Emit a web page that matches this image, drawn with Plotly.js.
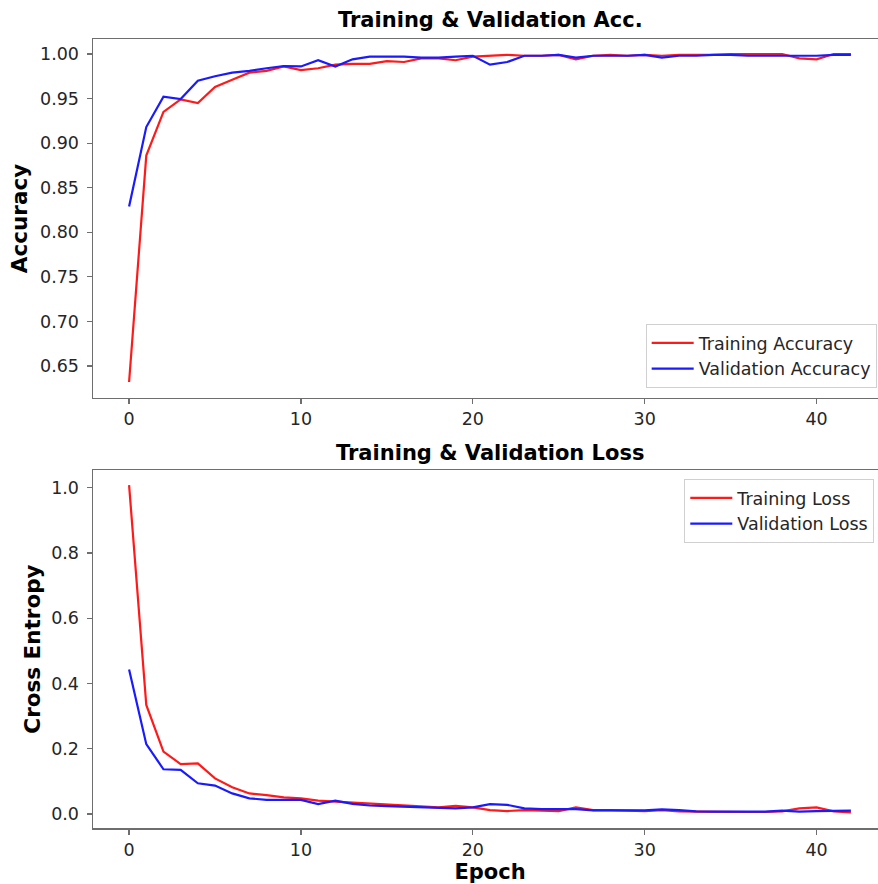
<!DOCTYPE html>
<html>
<head>
<meta charset="utf-8">
<script src="https://cdn.plot.ly/plotly-3.0.1.min.js"></script>
<style>
html,body{margin:0;padding:0;overflow:hidden;background:#fff;width:878px;height:884px;}
#chart{width:900px;height:884px;}
</style>
</head>
<body>
<div id="chart"></div>
<script>
const epochs = [0,1,2,3,4,5,6,7,8,9,10,11,12,13,14,15,16,17,18,19,20,21,22,23,24,25,26,27,28,29,30,31,32,33,34,35,36,37,38,39,40,41,42];
const trainAcc = [0.632,0.886,0.935,0.949,0.945,0.963,0.971,0.979,0.981,0.986,0.982,0.984,0.988,0.989,0.989,0.992,0.991,0.995,0.995,0.993,0.997,0.998,0.999,0.998,0.998,0.999,0.994,0.998,0.999,0.998,0.999,0.998,0.999,0.999,0.999,1.000,1.000,1.000,1.000,0.995,0.994,1.000,1.000];
const valAcc = [0.829,0.918,0.952,0.9495,0.970,0.975,0.979,0.981,0.984,0.9865,0.986,0.993,0.986,0.994,0.997,0.997,0.997,0.996,0.996,0.997,0.998,0.988,0.991,0.998,0.998,0.999,0.996,0.998,0.998,0.998,0.999,0.996,0.998,0.998,0.999,0.999,0.998,0.998,0.998,0.998,0.998,0.999,0.999];
const trainLoss = [1.008,0.334,0.191,0.153,0.155,0.109,0.082,0.063,0.058,0.051,0.048,0.041,0.038,0.035,0.033,0.029,0.025,0.023,0.020,0.025,0.020,0.012,0.009,0.012,0.010,0.009,0.020,0.012,0.012,0.010,0.009,0.012,0.008,0.007,0.006,0.006,0.006,0.006,0.008,0.017,0.020,0.008,0.005];
const valLoss = [0.443,0.214,0.137,0.135,0.094,0.087,0.063,0.048,0.043,0.043,0.043,0.030,0.041,0.031,0.026,0.024,0.022,0.020,0.018,0.017,0.020,0.030,0.028,0.017,0.015,0.015,0.015,0.011,0.012,0.011,0.011,0.014,0.012,0.008,0.007,0.007,0.007,0.007,0.010,0.007,0.009,0.009,0.010];

const FONT = 'DejaVu Sans';
const TXT = '#262626';
const RED = '#ff1a1a';
const BLUE = '#1a1aff';

const traces = [
  {x: epochs, y: trainAcc, name: 'Training Accuracy', mode: 'lines', line: {color: RED, width: 2.2}, xaxis: 'x', yaxis: 'y', legend: 'legend'},
  {x: epochs, y: valAcc, name: 'Validation Accuracy', mode: 'lines', line: {color: BLUE, width: 2.2}, xaxis: 'x', yaxis: 'y', legend: 'legend'},
  {x: epochs, y: trainLoss, name: 'Training Loss', mode: 'lines', line: {color: RED, width: 2.2}, xaxis: 'x2', yaxis: 'y2', legend: 'legend2'},
  {x: epochs, y: valLoss, name: 'Validation Loss', mode: 'lines', line: {color: BLUE, width: 2.2}, xaxis: 'x2', yaxis: 'y2', legend: 'legend2'}
];

const axisCommon = {
  showgrid: false, zeroline: false,
  showline: true, mirror: true, linecolor: '#6e6e6e', linewidth: 1.5,
  ticks: 'outside', ticklen: 5, tickwidth: 1.2, tickcolor: '#6e6e6e',
  tickfont: {family: FONT, size: 17.5, color: TXT}
};

const legendCommon = {
  bgcolor: 'rgba(255,255,255,0.8)', bordercolor: '#d0d0d0', borderwidth: 1,
  font: {family: FONT, size: 17.5, color: TXT}, tracegroupgap: 0, itemwidth: 42
};

const layout = {
  width: 900, height: 884,
  margin: {l: 93, r: 13, t: 39, b: 56},
  paper_bgcolor: '#fff', plot_bgcolor: '#fff',
  font: {family: FONT, color: TXT},
  showlegend: true,
  xaxis: Object.assign({}, axisCommon, {domain: [0, 1], anchor: 'y', range: [-2.1, 44.1], tickvals: [0,10,20,30,40]}),
  yaxis: Object.assign({}, axisCommon, {domain: [0.545, 1], anchor: 'x', range: [0.6141, 1.0168],
    tickvals: [0.65,0.70,0.75,0.80,0.85,0.90,0.95,1.00], tickformat: '.2f', ticklabelstandoff: 4,
    title: {text: '<b>Accuracy</b>', font: {family: FONT, size: 21.5, color: '#000'}, standoff: 6}}),
  xaxis2: Object.assign({}, axisCommon, {domain: [0, 1], anchor: 'y2', range: [-2.1, 44.1], tickvals: [0,10,20,30,40],
    title: {text: '<b>Epoch</b>', font: {family: FONT, size: 21, color: '#000'}, standoff: 6}}),
  yaxis2: Object.assign({}, axisCommon, {domain: [0, 0.4537], anchor: 'x2', range: [-0.043, 1.054],
    tickvals: [0,0.2,0.4,0.6,0.8,1.0], tickformat: '.1f', ticklabelstandoff: 4,
    title: {text: '<b>Cross Entropy</b>', font: {family: FONT, size: 21.5, color: '#000'}, standoff: 4}}),
  legend: Object.assign({}, legendCommon, {x: 0.987, xanchor: 'right', y: 0.5577, yanchor: 'bottom'}),
  legend2: Object.assign({}, legendCommon, {x: 0.984, xanchor: 'right', y: 0.4423, yanchor: 'top'}),
  annotations: [
    {text: '<b>Training & Validation Acc.</b>', xref: 'paper', yref: 'paper', x: 0.5, y: 1, yshift: 19, xanchor: 'center', yanchor: 'middle', showarrow: false, font: {family: FONT, size: 21, color: '#000'}},
    {text: '<b>Training & Validation Loss</b>', xref: 'paper', yref: 'paper', x: 0.5, y: 0.4537, yshift: 17, xanchor: 'center', yanchor: 'middle', showarrow: false, font: {family: FONT, size: 21, color: '#000'}}
  ]
};

Plotly.newPlot('chart', traces, layout, {displayModeBar: false, staticPlot: true});
</script>
</body>
</html>
